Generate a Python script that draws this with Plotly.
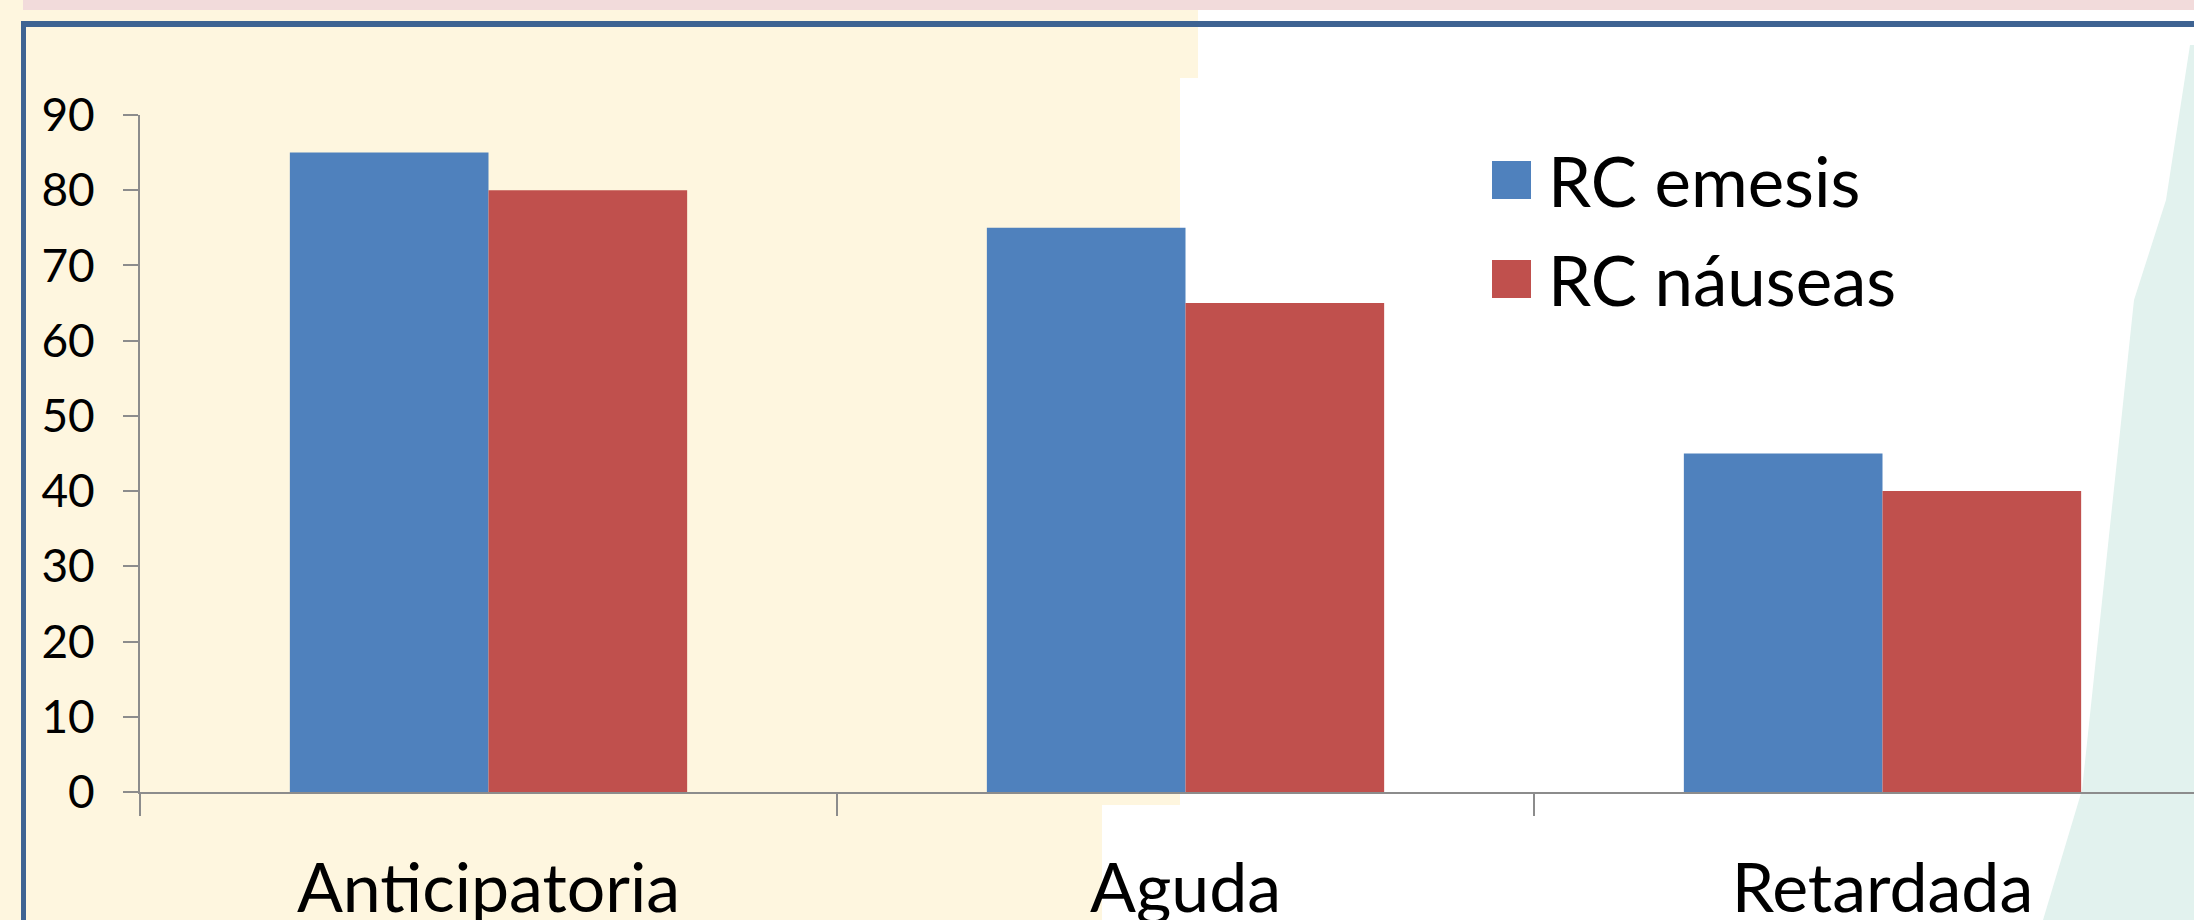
import plotly.graph_objects as go

# Chart data
categories = ["Anticipatoria", "Aguda", "Retardada"]
series_names = ["RC emesis", "RC náuseas"]
rc_emesis = [85, 75, 45]
rc_nauseas = [80, 65, 40]
y_ticks = [0, 10, 20, 30, 40, 50, 60, 70, 80, 90]

series_values = [rc_emesis, rc_nauseas]
series_colors = ["#4F81BD", "#C0504D"]

W, H = 2194, 920
ML, MR, MT, MB = 140, 0, 115, 128
PW, PH = W - ML - MR, H - MT - MB


def px(x):
    return (x - ML) / PW


def py(y):
    return (H - MB - y) / PH


FONT = "Lato"

fig = go.Figure()
for name, vals, col in zip(series_names, series_values, series_colors):
    fig.add_trace(go.Bar(
        x=categories, y=vals, name=name,
        marker=dict(color=col, line=dict(width=0)),
        showlegend=False,
    ))

shapes = []
# slide background: cream panel on the left, pale teal on the right
shapes.append(dict(
    type="path", xref="paper", yref="paper", layer="below",
    path="M {},{} L {},{} L {},{} L {},{} L {},{} L {},{} L {},{} L {},{} Z".format(
        px(0), py(0), px(1198), py(0), px(1198), py(78), px(1180), py(78),
        px(1180), py(805), px(1102), py(805), px(1102), py(H), px(0), py(H)),
    fillcolor="#FEF6DF", line=dict(width=0),
))
shapes.append(dict(
    type="path", xref="paper", yref="paper", layer="below",
    path="M {},{} L {},{} L {},{} L {},{} L {},{} L {},{} L {},{} Z".format(
        px(2190), py(45), px(W), py(45), px(W), py(H), px(2043), py(H),
        px(2082), py(790), px(2134), py(300), px(2166), py(200)),
    fillcolor="#E2F2EE", line=dict(width=0),
))
# top band and frame
shapes.append(dict(type="rect", xref="paper", yref="paper", layer="below",
                   x0=px(23), x1=px(W), y0=py(0), y1=py(10),
                   fillcolor="#F2DBDB", line=dict(width=0)))
shapes.append(dict(type="rect", xref="paper", yref="paper", layer="above",
                   x0=px(21), x1=px(W), y0=py(21), y1=py(27),
                   fillcolor="#3E6392", line=dict(width=0)))
shapes.append(dict(type="rect", xref="paper", yref="paper", layer="above",
                   x0=px(21), x1=px(26), y0=py(21), y1=py(H),
                   fillcolor="#3E6392", line=dict(width=0)))

# legend
annotations = []
legend_rows = [180, 279]
for name, col, yc in zip(series_names, series_colors, legend_rows):
    shapes.append(dict(type="rect", xref="paper", yref="paper", layer="above",
                       x0=px(1492), x1=px(1531), y0=py(yc - 19), y1=py(yc + 19),
                       fillcolor=col, line=dict(width=0)))
    annotations.append(dict(
        xref="paper", yref="paper", x=px(1546), y=py(yc),
        xanchor="left", yanchor="middle", showarrow=False,
        text=name, font=dict(family=FONT, size=69, color="#000000"),
    ))

fig.update_layout(
    width=W, height=H, autosize=False,
    margin=dict(l=ML, r=MR, t=MT, b=MB, pad=0, autoexpand=False),
    paper_bgcolor="#FFFFFF", plot_bgcolor="rgba(0,0,0,0)",
    barmode="group", bargap=0.43, bargroupgap=0,
    shapes=shapes, annotations=annotations,
    showlegend=False,
    font=dict(family=FONT, color="#000000"),
)
fig.update_xaxes(
    type="category", range=[-0.5, -0.5 + PW / 697.0], automargin=False,
    showline=True, linecolor="#8C8C8C", linewidth=2,
    ticks="outside", tickson="boundaries", ticklen=22, tickwidth=2, tickcolor="#8C8C8C",
    tickfont=dict(family=FONT, size=68, color="#000000"),
    ticklabelstandoff=36,
    showgrid=False, zeroline=False,
)
fig.update_yaxes(
    range=[0, 90], tickvals=y_ticks, automargin=False,
    showline=True, linecolor="#8C8C8C", linewidth=2,
    ticks="outside", ticklen=15, tickwidth=2, tickcolor="#8C8C8C",
    tickfont=dict(family=FONT, size=46, color="#000000"),
    ticklabelstandoff=19,
    showgrid=False, zeroline=False,
)

fig.write_html("out.html")
